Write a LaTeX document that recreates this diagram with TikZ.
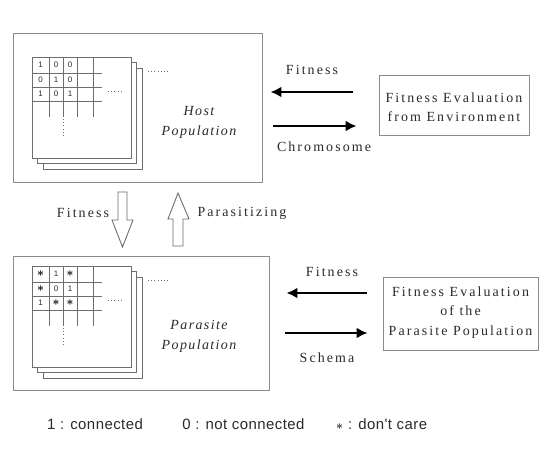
\documentclass[tikz,border=0pt]{standalone}
\usepackage{fontspec}
\setmainfont{Liberation Serif}
\newfontfamily\lblfont[LetterSpace=15]{Liberation Serif}
\newfontfamily\popfont[LetterSpace=10]{Liberation Serif}
\newfontfamily\legfont[LetterSpace=3]{Liberation Sans}
\newfontfamily\cellfont{Liberation Sans}
\usetikzlibrary{arrows.meta,calc}
\definecolor{boxgray}{HTML}{8C8C8C}
\definecolor{linegray}{HTML}{6E6E6E}
\definecolor{txt}{HTML}{2A2A2A}
\newcommand\popsheets[3]{%
  \begin{scope}[shift={(#1,#2)}]
    \draw[sheet] (11,11) rectangle ++(99,101);
    \draw[sheet] (5.5,5.5) rectangle ++(99,101);
    \draw[sheet] (0,0) rectangle (99,101);
    \foreach \gx in {17,31,45,61} \draw[gridline] (\gx,0) -- (\gx,60);
    \foreach \gy in {16,30,44} \draw[gridline] (0,\gy) -- (70,\gy);
    \draw[dotline] (116,14) -- (136,14);
    \draw[dotline] (76,34) -- (92,34);
    \draw[dotline] (31,62) -- (31,81);
    #3
  \end{scope}}
\begin{document}
\begin{tikzpicture}[x=1bp,y=-1bp,
  box/.style={draw=boxgray, line width=0.9bp, inner sep=0pt, fill=white},
  sheet/.style={draw=linegray, line width=0.8bp, fill=white},
  gridline/.style={draw=linegray, line width=0.7bp},
  dotline/.style={draw=linegray, line width=0.9bp, dash pattern=on 1bp off 2.2bp},
  cell/.style={inner sep=0pt, font=\cellfont\fontsize{8}{8}\selectfont, text=txt},
  star/.style={inner sep=0pt, font=\fontsize{12}{12}\selectfont\boldmath, text=black},
  lbl/.style={inner sep=0pt, font=\lblfont\fontsize{14}{16}\selectfont, text=txt},
  evaltext/.style={inner sep=0pt, align=center, font=\lblfont\fontsize{14}{19.5}\selectfont, text=txt},
  pop/.style={inner sep=0pt, align=center, font=\popfont\itshape\fontsize{14}{20}\selectfont, text=txt},
  leg/.style={inner sep=0pt, font=\legfont\fontsize{15}{17}\selectfont, text=txt},
  bigarrow/.style={draw=black, line width=2.6bp, -{Latex[length=11bp,width=11bp]}},
  hollow/.style={draw=linegray, line width=0.9bp, fill=white}]
\useasboundingbox (0,0) rectangle (542,449);
\fill[white] (0,0) rectangle (542,449);

% main boxes
\node[box, minimum width=249bp, minimum height=149bp] (host) at (137.5,107.5) {};
\node[box, minimum width=256bp, minimum height=134bp] (para) at (141,323) {};
\node[box, minimum width=150bp, minimum height=60bp] (eval1) at (454,105) {};
\node[box, minimum width=155bp, minimum height=73bp] (eval2) at (460.5,313.5) {};

% sheets
\popsheets{32}{57}{%
  \node[cell] (h11) at (8.5,8) {1}; \node[cell] (h12) at (24,8) {0}; \node[cell] (h13) at (38,8) {0};
  \node[cell] (h21) at (8.5,23) {0}; \node[cell] (h22) at (24,23) {1}; \node[cell] (h23) at (38,23) {0};
  \node[cell] (h31) at (8.5,37) {1}; \node[cell] (h32) at (24,37) {0}; \node[cell] (h33) at (38,37) {1};}
\popsheets{32}{266}{%
  \node[star] (p11) at (8.5,8) {$\ast$}; \node[cell] (p12) at (24,8) {1}; \node[star] (p13) at (38,8) {$\ast$};
  \node[star] (p21) at (8.5,23) {$\ast$}; \node[cell] (p22) at (24,23) {0}; \node[cell] (p23) at (38,23) {1};
  \node[cell] (p31) at (8.5,37) {1}; \node[star] (p32) at (24,37) {$\ast$}; \node[star] (p33) at (38,37) {$\ast$};}

% population labels
\node[pop] (hostlbl) at (199,122) {Host\\Population};
\node[pop] (paralbl) at (199,336.5) {Parasite\\Population};

% evaluation texts
\node[evaltext] (eval1t) at ($(eval1.center)+(0,2.5)$) {Fitness Evaluation\\from Environment};
\node[evaltext] (eval2t) at ($(eval2.center)+(0,-1)$) {Fitness Evaluation\\of the\\Parasite Population};

% upper arrows
\coordinate (yfa) at (0,92);
\coordinate (yca) at (0,126);
\draw[bigarrow] ([xshift=-26bp]eval1.west |- yfa) -- ([xshift=8bp]host.east |- yfa);
\draw[bigarrow] ([xshift=11bp]host.east |- yca) -- ([xshift=-22bp]eval1.west |- yca);
\node[lbl] (fit1) at (312,70) {Fitness};
\node[lbl] (chrom) at (324,147) {Chromosome};

% lower arrows
\coordinate (yfb) at (0,293);
\coordinate (ysb) at (0,333);
\draw[bigarrow] ([xshift=-16bp]eval2.west |- yfb) -- ([xshift=17bp]para.east |- yfb);
\draw[bigarrow] ([xshift=16bp]para.east |- ysb) -- ([xshift=-15bp]eval2.west |- ysb);
\node[lbl] (fit2) at (332,272) {Fitness};
\node[lbl] (schema) at (327,358) {Schema};

% hollow arrows between populations
\draw[hollow] (118,192) -- (127,192) -- (127,220) -- (133,220) -- (122.5,247) -- (112,220) -- (118,220) -- cycle;
\draw[hollow] (173,246) -- (183,246) -- (183,219) -- (189,219) -- (178,193) -- (168,219) -- (173,219) -- cycle;
\node[lbl] (fit3) at (83,213) {Fitness};
\node[lbl] (parasit) at (242,213) {Parasitizing};

% legend
\node[leg] (leg1) at (95,424) {1 : connected};
\node[leg] (leg2) at (243.5,424) {0 : not connected};
\node[leg, anchor=west] (leg3) at (336,424) {{\fontsize{12}{12}\selectfont\boldmath$\ast$}\hspace{5bp}: don't care};
\end{tikzpicture}
\end{document}
